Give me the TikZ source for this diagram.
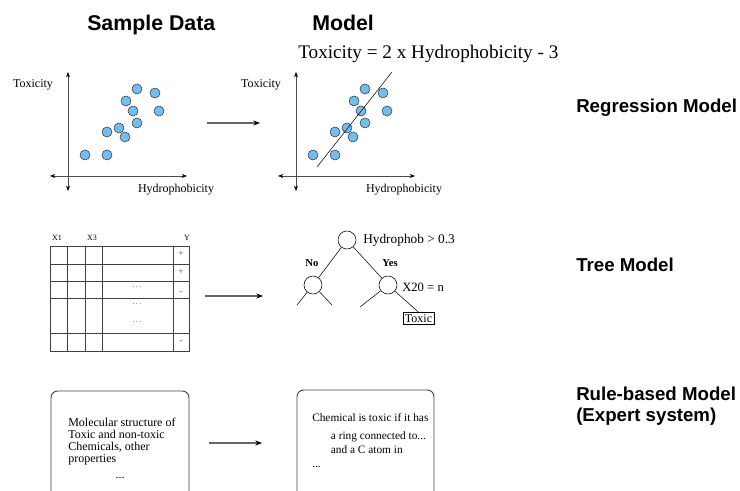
\documentclass[tikz,border=0pt]{standalone}
\usepackage{fontspec}
\setmainfont{Liberation Serif}
\setsansfont{Liberation Sans}
\usetikzlibrary{arrows.meta, positioning}

\definecolor{dotblue}{RGB}{115,190,240}

\tikzset{
  head/.style = {anchor=base west, inner sep=0pt, font=\sffamily\bfseries\fontsize{16}{18}\selectfont},
  kind/.style = {anchor=base west, inner sep=0pt, font=\sffamily\bfseries\fontsize{14}{16}\selectfont},
  lbl/.style = {inner sep=0pt, font=\fontsize{9}{10}\selectfont},
  tiny/.style = {inner sep=0pt, font=\fontsize{6}{7}\selectfont},
  axis/.style = {draw=black!70, {Stealth[black,length=4pt]}-{Stealth[black,length=4pt]}},
  flow/.style = {draw=black!60, line width=0.8pt, -{Stealth[black,length=5pt]}},
  dot/.style = {circle, draw=black!80, fill=dotblue, inner sep=0pt, minimum size=7.5pt},
  split/.style = {circle, draw, inner sep=0pt, minimum size=13.5pt},
  grid/.style = {draw=black!75, line width=0.7pt},
}

\begin{document}
\begin{tikzpicture}[x=0.75pt, y=-0.75pt]
\useasboundingbox (0,0) rectangle (740,491);

\node[head] (hs) at (87,31) {Sample Data};
\node[head] (hm) at (312,31) {Model};
\node[anchor=base west, inner sep=0pt, font=\fontsize{14.4}{16}\selectfont] (eq) at (298,59) {Toxicity = 2 x Hydrophobicity - 3};

\node[kind] (k1) at (576,113) {Regression Model};
\node[kind] (k2) at (576,272) {Tree Model};
\node[kind, align=left] (k3) at (576,422) {Rule-based Model\\(Expert system)};

% scatter plots, data and model
\foreach \dx/\p in {0/a, 228/b} {
\begin{scope}[shift={(\dx,0)}]
  \draw[axis] (68,72) -- (68,191);
  \draw[axis] (50,176) -- (187,176);
  \node[lbl] (\p ty) at (33,85) {Toxicity};
  \node[lbl] (\p tx) at (176,190) {Hydrophobicity};
  \foreach \x/\y in {85/155, 107/155, 107/132, 119/128, 125/137, 137/123,
                     126/101, 133/111, 137/89, 155/93, 159/111}
    \node[dot] at (\x,\y) {};
\end{scope}
}
\coordinate (f1) at (317,167);
\coordinate (f2) at (392,72);
\draw (f1) -- (f2);

% table of samples
\draw[grid] (50,246) rectangle (189,351);
\foreach \y in {264,281,298,333} \draw[grid] (50,\y) -- (189,\y);
\foreach \x in {67,85,102,173} \draw[grid] (\x,246) -- (\x,351);
\node[tiny] (x1) at (57,238) {X1};
\node[tiny] (x3) at (92,238) {X3};
\node[tiny] (yy) at (187,238) {Y};
\foreach \y/\s in {254/+, 272/+, 293/-, 342/-} \node[tiny, font=\fontsize{7}{8}\selectfont, text=black!70] at (181,\y) {\s};
\foreach \y in {287,304,322} \node[tiny, text=black!70] at (137,\y) {.\,.\,.};

% decision tree
\node[split] (t0) at (347,240) {};
\node[split] (t1) at (313,285) {};
\node[split] (t2) at (388,285) {};
\node[draw, inner sep=1.5pt, font=\fontsize{9}{10}\selectfont] (toxic) at (418.5,318.5) {Toxic};
\coordinate (l1) at (297,305);
\coordinate (l2) at (332,305);
\coordinate (l3) at (360,307);
\draw (t0) -- (t1);
\draw (t0) -- (t2);
\draw (t1) -- (l1);
\draw (t1) -- (l2);
\draw (t2) -- (l3);
\draw (t2) -- (toxic.north);
\node[anchor=west, inner sep=0pt, font=\fontsize{10}{12}\selectfont] (c0) at (363,240) {Hydrophob > 0.3};
\node[anchor=west, inner sep=0pt, font=\fontsize{9.5}{12}\selectfont] (c2) at (402,287) {X20 = n};
\node[inner sep=0pt, font=\bfseries\fontsize{8}{10}\selectfont] (no) at (312,263) {No};
\node[inner sep=0pt, font=\bfseries\fontsize{8}{10}\selectfont] (yes) at (390,263) {Yes};

% rule boxes
\draw[grid, rounded corners=5pt] (51,491) -- (51,391) -- (189,391) -- (189,491);
\draw[grid, rounded corners=5pt] (297,491) -- (297,390) -- (434,390) -- (434,491);
\node[anchor=north west, inner sep=0pt, align=left, font=\fontsize{9}{9}\selectfont] (m1) at (68,418)
  {Molecular structure of\\Toxic and non-toxic\\Chemicals, other\\properties};
\node[lbl] (m2) at (120,478) {...};
\node[anchor=north west, inner sep=0pt, align=left, font=\fontsize{8.5}{10.5}\selectfont] (r1) at (312,413)
  {Chemical is toxic if it has\\[3pt]\hspace*{14pt}a ring connected to...\\\hspace*{14pt}and a C atom in\\...};

% steps from data to model
\coordinate (a1) at (207,123);
\coordinate (b1) at (260,123);
\coordinate (a2) at (205,296);
\coordinate (b2) at (263,296);
\coordinate (a3) at (209,443);
\coordinate (b3) at (262,443);
\draw[flow] (a1) -- (b1);
\draw[flow] (a2) -- (b2);
\draw[flow] (a3) -- (b3);
\end{tikzpicture}
\end{document}
